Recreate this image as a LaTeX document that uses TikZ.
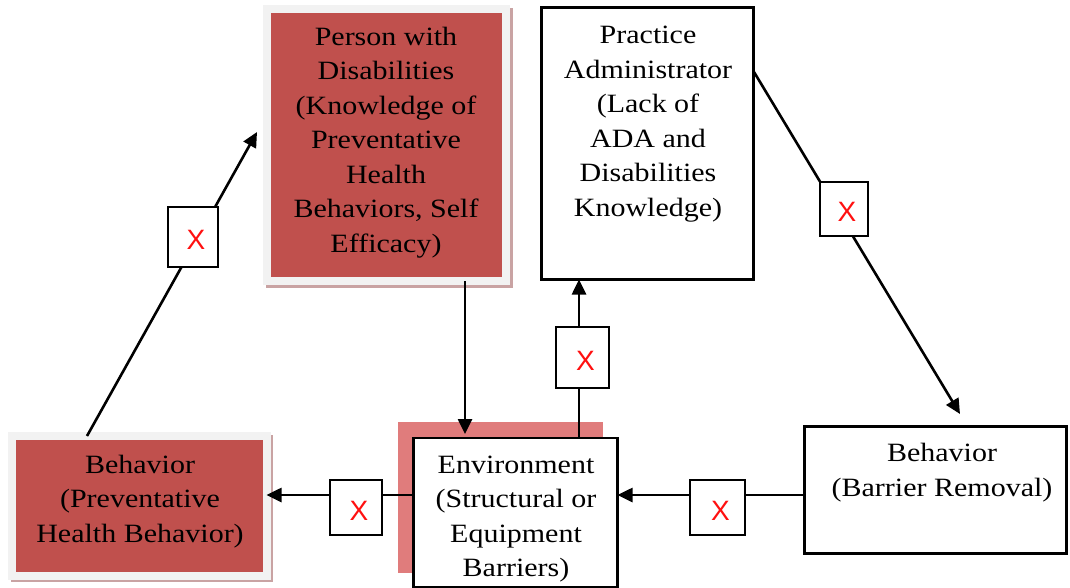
\documentclass[tikz,border=0pt]{standalone}
\usepackage{graphicx}
\usepackage{fontspec}
\setmainfont{Liberation Serif}
\newfontfamily\xfont{Liberation Sans}
\usetikzlibrary{arrows.meta}
\definecolor{boxred}{HTML}{C0504D}
\definecolor{framegray}{HTML}{F2F2F2}
\definecolor{shadowc}{HTML}{C9A3A3}
\definecolor{pinkback}{HTML}{E07C7C}
\definecolor{xred}{HTML}{FF1010}
\newcommand\sqtxt[1]{\scalebox{1}[0.88]{\begin{tabular}{@{}c@{}}#1\end{tabular}}}
\begin{document}
\begin{tikzpicture}[x=1pt,y=-1pt,
  redbox/.style={rectangle, draw=framegray, line width=8pt, fill=boxred, inner sep=0pt, outer sep=0pt},
  plainbox/.style={rectangle, draw=black, line width=2.6pt, fill=white, inner sep=0pt, outer sep=0pt},
  xmark/.style={font=\xfont\fontsize{28}{30}\selectfont, text=xred, inner sep=0pt, xshift=3pt, yshift=-3pt},
  xbox/.style={rectangle, draw=black, line width=2.4pt, fill=white, inner sep=0pt, label={[xmark]center:X}},
  lbl/.style={font=\fontsize{30}{39.2}\selectfont, inner sep=0pt, text=black},
  conn/.style={line width=2.6pt},
  arr/.style={conn, -{Triangle[length=15pt,width=14pt]}}
]
\useasboundingbox (0,0) rectangle (1070,588);
\fill[white] (0,0) rectangle (1070,588);

% shadows and background highlight
\fill[shadowc] (266,8) rectangle (513,288);
\fill[shadowc] (11,435) rectangle (273,582);
\fill[pinkback] (398,422) rectangle (603,573);

% boxes
\node[redbox, minimum width=239pt, minimum height=272pt] (pwd) at (386.5,145) {};
\node[lbl] (pwdt) at (386,142) {\sqtxt{Person with\\Disabilities\\(Knowledge of\\Preventative\\Health\\Behaviors, Self\\Efficacy)}};

\node[redbox, minimum width=254.5pt, minimum height=139.5pt] (phb) at (139.25,505.75) {};
\node[lbl] (phbt) at (140,501) {\sqtxt{Behavior\\(Preventative\\Health Behavior)}};

\node[plainbox, minimum width=212pt, minimum height=272pt] (pa) at (647.5,143.5) {};
\node[lbl] (pat) at (648,123) {\sqtxt{Practice\\Administrator\\(Lack of\\ADA and\\Disabilities\\Knowledge)}};

\node[plainbox, minimum width=262pt, minimum height=127pt] (br) at (935.5,490) {};
\node[lbl] (brt) at (942,472) {\sqtxt{Behavior\\(Barrier Removal)}};

\node[plainbox, minimum width=204pt, minimum height=149pt] (env) at (515.5,512.5) {};
\node[lbl] (envt) at (516,518) {\sqtxt{Environment\\(Structural or\\Equipment\\Barriers)}};

% connector helper coordinates
\coordinate (c1s) at (87,436);
\coordinate (c1e) at (257,132);
\coordinate (c2s) at (754,72);
\coordinate (c2e) at (960,414);
\coordinate (c3x) at (579,0);
\coordinate (c4x) at (465,0);
\coordinate (c5y) at (0,495);

% connectors
\draw[arr] (c1s) -- (c1e);
\draw[arr] (c2s) -- (c2e);
\draw[arr] (env.north -| c3x) -- (pa.south -| c3x);
\draw[arr] (pwd.south -| c4x) -- ([yshift=4pt]env.north -| c4x);
\draw[arr] (env.west |- c5y) -- (phb.east |- c5y);
\draw[arr] (br.west |- c5y) -- (env.east |- c5y);

% X boxes
\node[xbox, minimum width=50pt, minimum height=60pt] (x1) at (193,237) {};
\node[xbox, minimum width=48pt, minimum height=54pt] (x2) at (844,209) {};
\node[xbox, minimum width=53pt, minimum height=61pt] (x3) at (582.5,357.5) {};
\node[xbox, minimum width=52pt, minimum height=55pt] (x4) at (356,507.5) {};
\node[xbox, minimum width=55pt, minimum height=55pt] (x5) at (717.5,507.5) {};
\end{tikzpicture}
\end{document}
